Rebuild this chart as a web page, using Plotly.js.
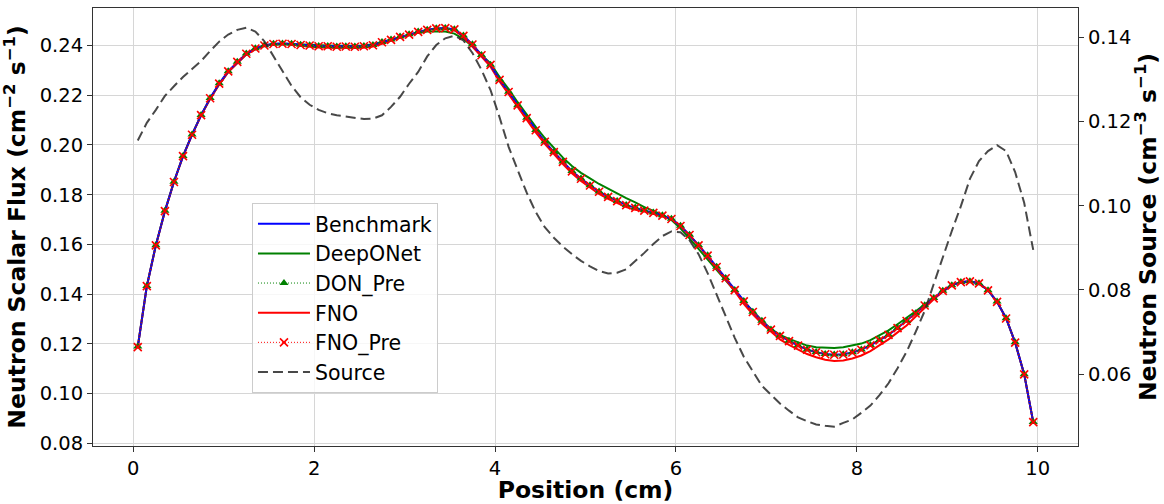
<!DOCTYPE html>
<html>
<head>
<meta charset="utf-8">
<script src="https://cdn.plot.ly/plotly-3.0.1.min.js"></script>
<style>html,body{margin:0;padding:0;background:#fff;}#chart{width:1164px;height:504px;}</style>
</head>
<body>
<div id="chart"></div>
<script>
// Positions (cm): cell centres 0.05 ... 9.95
const position = [0.05,0.15,0.25,0.35,0.45,0.55,0.65,0.75,0.85,0.95,
1.05,1.15,1.25,1.35,1.45,1.55,1.65,1.75,1.85,1.95,
2.05,2.15,2.25,2.35,2.45,2.55,2.65,2.75,2.85,2.95,
3.05,3.15,3.25,3.35,3.45,3.55,3.65,3.75,3.85,3.95,
4.05,4.15,4.25,4.35,4.45,4.55,4.65,4.75,4.85,4.95,
5.05,5.15,5.25,5.35,5.45,5.55,5.65,5.75,5.85,5.95,
6.05,6.15,6.25,6.35,6.45,6.55,6.65,6.75,6.85,6.95,
7.05,7.15,7.25,7.35,7.45,7.55,7.65,7.75,7.85,7.95,
8.05,8.15,8.25,8.35,8.45,8.55,8.65,8.75,8.85,8.95,
9.05,9.15,9.25,9.35,9.45,9.55,9.65,9.75,9.85,9.95];

const benchmark = [0.1188,0.1432,0.1597,0.1734,0.1852,0.1955,0.2042,0.2120,0.2189,0.2247,
0.2297,0.2334,0.2368,0.2388,0.2401,0.2406,0.2408,0.2406,0.2403,0.2400,
0.2398,0.2397,0.2396,0.2396,0.2396,0.2397,0.2402,0.2413,0.2424,0.2435,
0.2445,0.2455,0.2464,0.2469,0.2471,0.2465,0.2440,0.2404,0.2362,0.2322,
0.2263,0.2213,0.2160,0.2108,0.2060,0.2013,0.1972,0.1932,0.1895,0.1864,
0.1838,0.1812,0.1792,0.1774,0.1759,0.1747,0.1737,0.1727,0.1717,0.1702,
0.1675,0.1638,0.1597,0.1555,0.1510,0.1464,0.1417,0.1371,0.1329,0.1292,
0.1258,0.1232,0.1212,0.1193,0.1177,0.1166,0.1159,0.1156,0.1158,0.1165,
0.1177,0.1194,0.1215,0.1236,0.1264,0.1292,0.1323,0.1354,0.1384,0.1413,
0.1436,0.1448,0.1452,0.1443,0.1416,0.1369,0.1303,0.1205,0.1078,0.0885];

const deepONet = [0.1188,0.1432,0.1597,0.1734,0.1852,0.1955,0.2042,0.2120,0.2186,0.2244,
0.2294,0.2331,0.2365,0.2386,0.2400,0.2406,0.2408,0.2406,0.2404,0.2402,
0.2401,0.2400,0.2399,0.2399,0.2399,0.2400,0.2405,0.2414,0.2424,0.2434,
0.2443,0.2451,0.2456,0.2457,0.2456,0.2448,0.2427,0.2396,0.2362,0.2328,
0.2273,0.2225,0.2172,0.2120,0.2073,0.2028,0.1988,0.1949,0.1915,0.1888,
0.1866,0.1843,0.1824,0.1804,0.1786,0.1769,0.1750,0.1735,0.1719,0.1698,
0.1665,0.1624,0.1581,0.1540,0.1498,0.1456,0.1413,0.1371,0.1331,0.1294,
0.1260,0.1236,0.1220,0.1205,0.1193,0.1186,0.1183,0.1183,0.1186,0.1192,
0.1201,0.1215,0.1235,0.1254,0.1279,0.1304,0.1331,0.1358,0.1384,0.1413,
0.1436,0.1448,0.1452,0.1443,0.1416,0.1369,0.1303,0.1205,0.1078,0.0885];

const donPre = [0.1189,0.1433,0.1597,0.1735,0.1852,0.1956,0.2042,0.2121,0.2189,0.2248,
0.2297,0.2335,0.2368,0.2389,0.2401,0.2407,0.2408,0.2407,0.2403,0.2401,
0.2398,0.2398,0.2396,0.2397,0.2396,0.2398,0.2402,0.2414,0.2424,0.2436,
0.2445,0.2456,0.2464,0.2470,0.2471,0.2466,0.2440,0.2405,0.2362,0.2323,
0.2263,0.2214,0.2160,0.2109,0.2060,0.2014,0.1972,0.1933,0.1895,0.1865,
0.1838,0.1813,0.1792,0.1775,0.1759,0.1748,0.1737,0.1728,0.1717,0.1703,
0.1675,0.1639,0.1597,0.1556,0.1510,0.1465,0.1417,0.1372,0.1329,0.1293,
0.1258,0.1233,0.1212,0.1194,0.1177,0.1167,0.1159,0.1157,0.1158,0.1166,
0.1177,0.1195,0.1215,0.1237,0.1264,0.1293,0.1323,0.1355,0.1384,0.1414,
0.1436,0.1449,0.1452,0.1444,0.1416,0.1370,0.1303,0.1206,0.1078,0.0886];

const fno = [0.1188,0.1432,0.1596,0.1733,0.1851,0.1954,0.2041,0.2118,0.2186,0.2243,
0.2293,0.2330,0.2364,0.2385,0.2399,0.2404,0.2406,0.2404,0.2400,0.2396,
0.2392,0.2391,0.2390,0.2390,0.2390,0.2391,0.2396,0.2407,0.2421,0.2432,
0.2442,0.2452,0.2462,0.2467,0.2469,0.2462,0.2434,0.2396,0.2355,0.2315,
0.2256,0.2205,0.2151,0.2099,0.2051,0.2004,0.1963,0.1923,0.1886,0.1855,
0.1829,0.1803,0.1783,0.1765,0.1750,0.1739,0.1733,0.1723,0.1713,0.1702,
0.1675,0.1638,0.1597,0.1550,0.1505,0.1459,0.1412,0.1361,0.1319,0.1282,
0.1248,0.1218,0.1196,0.1176,0.1159,0.1146,0.1136,0.1131,0.1133,0.1141,
0.1153,0.1171,0.1195,0.1218,0.1246,0.1274,0.1310,0.1346,0.1379,0.1410,
0.1436,0.1448,0.1452,0.1443,0.1416,0.1369,0.1303,0.1205,0.1078,0.0885];

const fnoPre = [0.1187,0.1432,0.1596,0.1734,0.1851,0.1955,0.2041,0.2120,0.2188,0.2247,
0.2296,0.2334,0.2367,0.2388,0.2400,0.2406,0.2407,0.2406,0.2402,0.2400,
0.2397,0.2397,0.2395,0.2396,0.2395,0.2397,0.2401,0.2413,0.2423,0.2435,
0.2444,0.2455,0.2463,0.2469,0.2470,0.2465,0.2439,0.2404,0.2361,0.2322,
0.2262,0.2213,0.2159,0.2108,0.2059,0.2013,0.1971,0.1932,0.1894,0.1864,
0.1837,0.1812,0.1791,0.1774,0.1758,0.1747,0.1736,0.1727,0.1716,0.1702,
0.1674,0.1638,0.1596,0.1555,0.1509,0.1464,0.1416,0.1371,0.1328,0.1292,
0.1257,0.1232,0.1211,0.1193,0.1176,0.1166,0.1158,0.1156,0.1157,0.1165,
0.1176,0.1194,0.1214,0.1236,0.1263,0.1292,0.1322,0.1354,0.1383,0.1413,
0.1435,0.1448,0.1451,0.1443,0.1415,0.1369,0.1302,0.1205,0.1077,0.0885];

const source = [0.1155,0.1197,0.1228,0.1261,0.1284,0.1306,0.1325,0.1344,0.1368,0.1390,
0.1407,0.1418,0.1423,0.1414,0.1391,0.1355,0.1318,0.1285,0.1258,0.1240,
0.1228,0.1220,0.1215,0.1212,0.1209,0.1206,0.1207,0.1215,0.1235,0.1259,
0.1290,0.1318,0.1355,0.1382,0.1398,0.1404,0.1393,0.1363,0.1323,0.1275,
0.1210,0.1140,0.1085,0.1031,0.0985,0.0949,0.0924,0.0903,0.0885,0.0869,
0.0856,0.0845,0.0839,0.0841,0.0849,0.0868,0.0888,0.0909,0.0928,0.0939,
0.0937,0.0918,0.0885,0.0840,0.0788,0.0737,0.0686,0.0641,0.0606,0.0572,
0.0551,0.0530,0.0513,0.0497,0.0488,0.0480,0.0477,0.0475,0.0484,0.0492,
0.0508,0.0525,0.0550,0.0578,0.0614,0.0653,0.0700,0.0750,0.0814,0.0879,
0.0940,0.0999,0.1064,0.1106,0.1130,0.1144,0.1130,0.1080,0.1007,0.0895];

const xTicks = [0, 2, 4, 6, 8, 10];
const seriesNames = ['Benchmark', 'DeepONet', 'DON_Pre', 'FNO', 'FNO_Pre', 'Source'];

const FONT = 'DejaVu Sans, Verdana, sans-serif';

// drawing order differs from legend order (legendrank keeps the legend order)
const traces = [
  {x: position, y: deepONet, name: seriesNames[1], mode: 'lines', legendrank: 2,
   line: {color: '#008000', width: 2}},
  {x: position, y: fno, name: seriesNames[3], mode: 'lines', legendrank: 4,
   line: {color: '#ff0000', width: 2}},
  {x: position, y: benchmark, name: seriesNames[0], mode: 'lines', legendrank: 1,
   line: {color: '#0000ff', width: 2}},
  {x: position, y: donPre, name: seriesNames[2], mode: 'lines+markers', legendrank: 3,
   line: {color: '#008000', width: 1, dash: '1px,2px'},
   marker: {symbol: 'triangle-up', size: 8, color: '#008000'}},
  {x: position, y: fnoPre, name: seriesNames[4], mode: 'lines+markers', legendrank: 5,
   line: {color: '#ff0000', width: 1, dash: '1px,2px'},
   marker: {symbol: 'x-thin', size: 8, color: '#ff0000', line: {color: '#ff0000', width: 1.6}}},
  {x: position, y: source, name: seriesNames[5], mode: 'lines', yaxis: 'y2', legendrank: 6,
   line: {color: 'rgba(40,40,40,0.85)', width: 2, dash: '10px,5px'}}
];

const axisCommon = {
  ticks: 'outside', ticklen: 5, tickwidth: 1, tickcolor: '#333',
  showline: true, linecolor: '#333', linewidth: 1, zeroline: false,
  tickfont: {family: FONT, size: 19.5, color: '#000'}
};

const layout = {
  width: 1164, height: 504,
  margin: {l: 93, r: 86, t: 8, b: 58, pad: 0},
  paper_bgcolor: '#ffffff', plot_bgcolor: '#ffffff',
  font: {family: FONT, color: '#000'},
  showlegend: true,
  xaxis: Object.assign({}, axisCommon, {
    range: [-0.445, 10.445], tickvals: xTicks, ticktext: xTicks.map(String),
    showgrid: true, gridcolor: '#d6d6d6', gridwidth: 1, mirror: true,
    title: {text: '<b>Position (cm)</b>', font: {family: FONT, size: 23.5, color: '#000'}, standoff: 5}
  }),
  yaxis: Object.assign({}, axisCommon, {
    range: [0.0789, 0.2551], dtick: 0.02, tick0: 0, tickformat: '.2f',
    showgrid: true, gridcolor: '#d6d6d6', gridwidth: 1,
    title: {text: '<b>Neutron Scalar Flux (cm<sup>\u22122</sup> s<sup>\u22121</sup>)</b>', font: {family: FONT, size: 23.5, color: '#000'}, standoff: 8}
  }),
  yaxis2: Object.assign({}, axisCommon, {
    overlaying: 'y', side: 'right',
    range: [0.0429, 0.147], dtick: 0.02, tick0: 0, tickformat: '.2f',
    showgrid: false,
    title: {text: '<b>Neutron Source (cm<sup>\u22123</sup> s<sup>\u22121</sup>)</b>', font: {family: FONT, size: 23.5, color: '#000'}, standoff: 8}
  }),
  legend: {
    x: 0.1614, y: 0.555, xanchor: 'left', yanchor: 'top',
    bgcolor: 'rgba(255,255,255,0.8)', bordercolor: '#cccccc', borderwidth: 1,
    font: {family: FONT, size: 20.5, color: '#000'}, traceorder: 'normal',
    itemwidth: 52
  }
};

Plotly.newPlot('chart', traces, layout, {displayModeBar: false, staticPlot: true});
</script>
</body>
</html>
